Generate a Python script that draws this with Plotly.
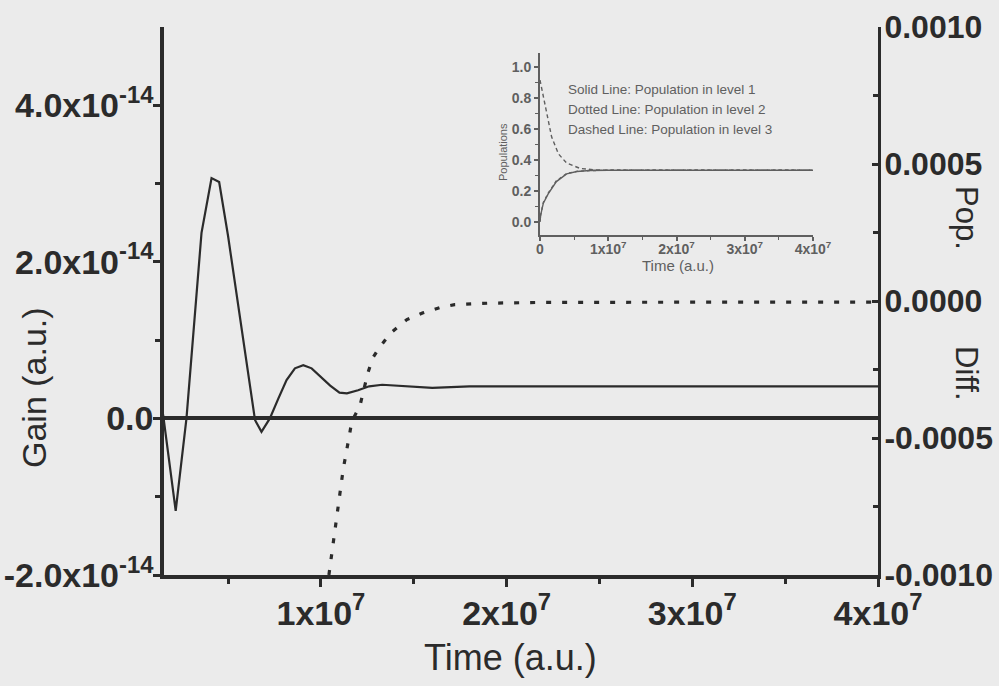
import plotly.graph_objects as go

# ---- main panel: gain and population difference versus time ----
time_gain = [1.5e6, 2.18e6, 2.76e6, 3.57e6, 4.11e6, 4.52e6, 5.0e6, 6.17e6, 6.45e6, 6.8e6,
             7.25e6, 7.7e6, 8.15e6, 8.6e6, 9.05e6, 9.5e6, 10.0e6, 10.5e6, 11.0e6, 11.4e6,
             12.0e6, 12.6e6, 13.3e6, 14.0e6, 15.0e6, 16.0e6, 17.0e6, 18.0e6, 19.0e6,
             20.0e6, 25.0e6, 30.0e6, 35.0e6, 40.0e6]
gain = [0.05e-14, -1.18e-14, 0.0, 2.37e-14, 3.07e-14, 3.02e-14, 2.33e-14, 0.45e-14, -0.02e-14, -0.17e-14,
        0.0, 0.25e-14, 0.49e-14, 0.64e-14, 0.68e-14, 0.64e-14, 0.53e-14, 0.42e-14, 0.33e-14, 0.32e-14,
        0.36e-14, 0.41e-14, 0.43e-14, 0.42e-14, 0.40e-14, 0.39e-14, 0.40e-14, 0.41e-14, 0.41e-14,
        0.41e-14, 0.41e-14, 0.41e-14, 0.41e-14, 0.41e-14]

time_diff = [10.43e6, 10.85e6, 11.2e6, 11.53e6, 11.66e6, 12.1e6, 12.53e6, 12.8e6, 13.18e6,
             13.77e6, 14.63e6, 15.5e6, 16.4e6, 17.2e6, 18.1e6, 19.0e6, 22.0e6, 26.0e6,
             30.0e6, 35.0e6, 40.0e6]
pop_diff = [-0.00100, -0.000791, -0.000614, -0.000492, -0.000440, -0.000383, -0.000262,
            -0.000207, -0.000167, -0.000116, -0.000068, -0.000043, -0.000024, -0.0000135,
            -0.000010, -0.000008, -0.000005, -0.000004, -0.000004, -0.000004, -0.000004]

x_ticks = [1e7, 2e7, 3e7, 4e7]
x_ticktext = ["1x10<sup>7</sup>", "2x10<sup>7</sup>", "3x10<sup>7</sup>", "4x10<sup>7</sup>"]
gain_ticks = [-2e-14, 0.0, 2e-14, 4e-14]
gain_ticktext = ["-2.0x10<sup>-14</sup>", "0.0", "2.0x10<sup>-14</sup>", "4.0x10<sup>-14</sup>"]
diff_ticks = [-0.001, -0.0005, 0.0, 0.0005, 0.001]
diff_ticktext = ["-0.0010", "-0.0005", "0.0000", "0.0005", "0.0010"]

# ---- inset: level populations ----
time_pop = [0.0, 0.01e7, 0.049e7, 0.12e7, 0.24e7, 0.39e7, 0.54e7, 0.73e7, 1.0e7, 2.0e7, 3.0e7, 4.0e7]
pop_level1 = [0.0, 0.043, 0.12, 0.18, 0.26, 0.31, 0.325, 0.332, 0.333, 0.333, 0.333, 0.333]
pop_level2 = [0.0, 0.045, 0.125, 0.185, 0.265, 0.312, 0.326, 0.332, 0.333, 0.333, 0.333, 0.333]
time_pop3 = [0.0, 0.05e7, 0.1e7, 0.17e7, 0.27e7, 0.39e7, 0.59e7, 0.83e7, 1.0e7, 2.0e7, 3.0e7, 4.0e7]
pop_level3 = [0.918, 0.81, 0.68, 0.55, 0.44, 0.38, 0.345, 0.335, 0.334, 0.333, 0.333, 0.333]

inset_x_ticks = [0, 1e7, 2e7, 3e7, 4e7]
inset_x_ticktext = ["0", "1x10<sup>7</sup>", "2x10<sup>7</sup>", "3x10<sup>7</sup>", "4x10<sup>7</sup>"]
inset_y_ticks = [0.0, 0.2, 0.4, 0.6, 0.8, 1.0]
inset_y_ticktext = ["0.0", "0.2", "0.4", "0.6", "0.8", "1.0"]
legend_lines = ["Solid Line: Population in level 1",
                "Dotted Line: Population in level 2",
                "Dashed Line: Population in level 3"]

# ---- page geometry (pixels) ----
W, H = 999, 686
L, R, T, B = 164, 878, 27, 575
PW, PH = R - L, B - T


def px(x):
    return (x - L) / PW


def py(y):
    return (B - y) / PH


FONT = "Liberation Sans, Arial, sans-serif"
INK = "#2b2b2b"
GREY = "#5f5f5f"
BG = "#ebebeb"

fig = go.Figure()

fig.add_trace(go.Scatter(x=time_gain, y=gain, mode="lines", xaxis="x", yaxis="y",
                         line=dict(color=INK, width=2.2), showlegend=False))
fig.add_trace(go.Scatter(x=time_diff, y=pop_diff, mode="lines", xaxis="x", yaxis="y2",
                         line=dict(color=INK, width=3.2, dash="5px,11px"), showlegend=False))

fig.add_trace(go.Scatter(x=time_pop, y=pop_level2, mode="lines", xaxis="x4", yaxis="y4",
                         line=dict(color=GREY, width=1.4, dash="dot"), showlegend=False))
fig.add_trace(go.Scatter(x=time_pop, y=pop_level1, mode="lines", xaxis="x4", yaxis="y4",
                         line=dict(color=GREY, width=1.4), showlegend=False))
fig.add_trace(go.Scatter(x=time_pop3, y=pop_level3, mode="lines", xaxis="x4", yaxis="y4",
                         line=dict(color=GREY, width=1.4, dash="4px,3px"), showlegend=False))

x_range = [1.55e6, 4.0e7]
big_tick = dict(family=FONT, size=34, color=INK, weight="bold")
right_tick = dict(family=FONT, size=32, color=INK, weight="bold")

fig.update_layout(
    width=W, height=H,
    margin=dict(l=L, r=W - R, t=T, b=H - B, pad=0),
    paper_bgcolor=BG, plot_bgcolor=BG,
    font=dict(family=FONT, color=INK),
    xaxis=dict(range=x_range, domain=[0, 1], anchor="y", tickmode="array", tickvals=x_ticks,
               ticktext=x_ticktext, ticks="outside", ticklen=8, tickwidth=3, tickcolor=INK,
               showline=True, linewidth=3.5, linecolor=INK, showgrid=False, zeroline=False,
               tickfont=big_tick, automargin=False, ticklabelstandoff=-3,
               minor=dict(tickvals=[5e6, 1.5e7, 2.5e7, 3.5e7], ticks="outside", ticklen=5,
                          tickwidth=2.5, tickcolor=INK, showgrid=False)),
    xaxis2=dict(range=x_range, overlaying="x", side="top", anchor="y", tickmode="array",
                tickvals=x_ticks, ticks="inside", ticklen=6, tickwidth=2.5, tickcolor=INK,
                showticklabels=False, showline=True, linewidth=2.2, linecolor=INK,
                showgrid=False, zeroline=False, automargin=False,
                minor=dict(tickvals=[5e6, 1.5e7, 2.5e7, 3.5e7], ticks="inside", ticklen=5,
                           tickwidth=2.5, tickcolor=INK, showgrid=False)),
    yaxis=dict(range=[-2e-14, 5e-14], domain=[0, 1], anchor="x", tickmode="array",
               tickvals=gain_ticks, ticktext=gain_ticktext, ticks="outside", ticklen=7,
               tickwidth=3, tickcolor=INK, showline=True, linewidth=3.5, linecolor=INK,
               showgrid=False, zeroline=True, zerolinewidth=3.5, zerolinecolor=INK,
               tickfont=big_tick, automargin=False, ticklabelstandoff=-7,
               minor=dict(tickvals=[-1e-14, 1e-14, 3e-14], ticks="outside", ticklen=5,
                          tickwidth=2.5, tickcolor=INK, showgrid=False)),
    yaxis2=dict(range=[-0.001, 0.001], overlaying="y", side="right", anchor="x",
                tickmode="array", tickvals=diff_ticks, ticktext=diff_ticktext,
                ticks="inside", ticklen=6, tickwidth=3, tickcolor=INK, showline=True,
                linewidth=3, linecolor=INK, showgrid=False, zeroline=False,
                tickfont=right_tick, automargin=False, ticklabelstandoff=-3,
                minor=dict(tickvals=[-0.00075, -0.00025, 0.00025, 0.00075], ticks="inside",
                           ticklen=5, tickwidth=2.5, tickcolor=INK, showgrid=False)),
    xaxis4=dict(range=[0, 4e7], domain=[px(540), px(813)], anchor="y4", tickmode="array",
                tickvals=inset_x_ticks, ticktext=inset_x_ticktext, ticks="outside",
                ticklen=4, tickwidth=1.5, tickcolor=GREY, showline=True, linewidth=2,
                linecolor=GREY, showgrid=False, zeroline=False, automargin=False,
                ticklabelstandoff=-4,
                tickfont=dict(family=FONT, size=14, color=GREY, weight="bold"),
                minor=dict(tickvals=[5e6, 1.5e7, 2.5e7, 3.5e7], ticks="outside", ticklen=3,
                           tickwidth=1.2, tickcolor=GREY, showgrid=False)),
    yaxis4=dict(range=[-0.086, 1.095], domain=[py(235), py(52.7)], anchor="x4",
                tickmode="array", tickvals=inset_y_ticks, ticktext=inset_y_ticktext,
                ticks="outside", ticklen=4, tickwidth=1.5, tickcolor=GREY, showline=True,
                linewidth=2, linecolor=GREY, showgrid=False, zeroline=False,
                automargin=False,
                tickfont=dict(family=FONT, size=14, color=GREY, weight="bold"),
                minor=dict(tickvals=[0.1, 0.3, 0.5, 0.7, 0.9], ticks="outside", ticklen=3,
                           tickwidth=1.2, tickcolor=GREY, showgrid=False)),
)

# axis titles and inset legend text
notes = [
    dict(text="Gain (a.u.)", x=px(34), y=py(388), textangle=-90, size=34),
    dict(text="Time (a.u.)", x=px(510), y=py(657), textangle=0, size=36),
    dict(text="Pop.", x=px(967), y=py(218), textangle=90, size=31),
    dict(text="Diff.", x=px(967), y=py(373), textangle=90, size=31),
    dict(text="Populations", x=px(503), y=py(152), textangle=-90, size=11, color=GREY),
    dict(text="Time (a.u.)", x=px(678), y=py(265), textangle=0, size=15, color=GREY),
]
for n in notes:
    fig.add_annotation(text=n["text"], x=n["x"], y=n["y"], xref="paper", yref="paper",
                       xanchor="center", yanchor="middle", textangle=n["textangle"],
                       showarrow=False,
                       font=dict(family=FONT, size=n["size"], color=n.get("color", INK)))

for label, yc in zip(legend_lines, [89.3, 109.3, 129.3]):
    fig.add_annotation(text=label, x=px(566), y=py(yc), xref="paper", yref="paper",
                       xanchor="left", yanchor="middle", showarrow=False,
                       font=dict(family=FONT, size=13.5, color=GREY))

fig.write_html("out.html")
